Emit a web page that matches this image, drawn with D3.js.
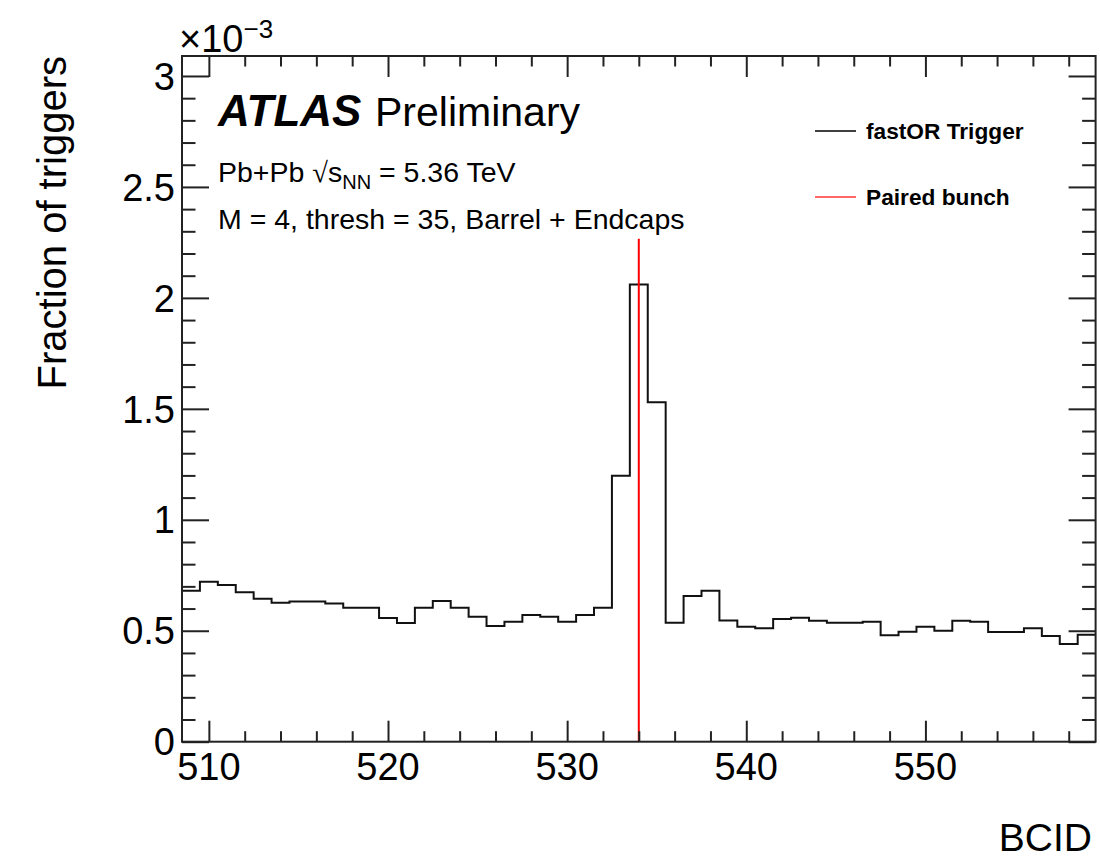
<!DOCTYPE html>
<html>
<head>
<meta charset="utf-8">
<script src="https://cdn.jsdelivr.net/npm/d3@7"></script>
<style>
html,body{margin:0;padding:0;background:#fff;}
svg{display:block;}
text{font-family:"Liberation Sans","Helvetica",Arial,sans-serif;fill:#000;}
</style>
</head>
<body>
<svg id="chart" width="1100" height="858"></svg>
<script>
// ---- data ----
const bcid = d3.range(509, 560); // bin centres 509..559
const fraction = [
  0.680, 0.721, 0.706, 0.673, 0.644, 0.626, 0.632, 0.632, 0.623, 0.604,
  0.604, 0.557, 0.535, 0.604, 0.634, 0.604, 0.563, 0.521, 0.541, 0.571,
  0.563, 0.541, 0.571, 0.604, 1.198, 2.060, 1.530, 0.536, 0.657, 0.680,
  0.546, 0.518, 0.511, 0.553, 0.559, 0.545, 0.536, 0.536, 0.541, 0.480,
  0.495, 0.518, 0.500, 0.545, 0.541, 0.494, 0.494, 0.511, 0.476, 0.440,
  0.482
];
const pairedBunch = [534];
const xDomain = [508.5, 559.5];
const yDomain = [0, 3.09];
const xMajorTicks = [510, 520, 530, 540, 550];
const yMajorTicks = [0, 0.5, 1, 1.5, 2, 2.5, 3];
const legendLabels = ["fastOR Trigger", "Paired bunch"];

// ---- layout ----
const svg = d3.select("#chart");
const L = 182, R = 1095.6, T = 56, B = 741.7;
const x = d3.scaleLinear().domain(xDomain).range([L, R]);
const y = d3.scaleLinear().domain(yDomain).range([B, T]);
const axisColor = "#222";

// histogram
const pts = bcid.map((b, i) => [b - 0.5, fraction[i]]);
pts.push([bcid[bcid.length - 1] + 0.5, fraction[fraction.length - 1]]);
const line = d3.line().x(d => x(d[0])).y(d => y(d[1])).curve(d3.curveStepAfter);
svg.append("path").attr("d", line(pts)).attr("fill", "none")
  .attr("stroke", "#111").attr("stroke-width", 2);

// paired bunch red line (max*1.1)
const peak = d3.max(fraction);
pairedBunch.forEach(p => {
  svg.append("line").attr("x1", x(p)).attr("x2", x(p))
    .attr("y1", y(0)).attr("y2", y(peak * 1.1))
    .attr("stroke", "#ff0000").attr("stroke-width", 2);
});

// axes (ROOT style: ticks inside on all four sides)
const xMinor = d3.range(510, 560, 2).filter(v => v % 10 !== 0);
const yMinor = d3.range(0, 31).map(v => v / 10).filter(v => Math.round(v * 10) % 5 !== 0);

function xAxis(g, scale, orient, values, len) {
  const ax = (orient === "bottom" ? d3.axisBottom(scale) : d3.axisTop(scale))
    .tickValues(values).tickSizeInner(-len).tickSizeOuter(0).tickFormat("");
  g.call(ax);
  g.select(".domain").remove();
  g.selectAll("line").attr("stroke", axisColor).attr("stroke-width", 2);
}
function yAxis(g, scale, orient, values, len) {
  const ax = (orient === "left" ? d3.axisLeft(scale) : d3.axisRight(scale))
    .tickValues(values).tickSizeInner(-len).tickSizeOuter(0).tickFormat("");
  g.call(ax);
  g.select(".domain").remove();
  g.selectAll("line").attr("stroke", axisColor).attr("stroke-width", 2);
}
xAxis(svg.append("g").attr("transform", `translate(0,${B})`), x, "bottom", xMajorTicks, 21);
xAxis(svg.append("g").attr("transform", `translate(0,${B})`), x, "bottom", xMinor, 10.5);
xAxis(svg.append("g").attr("transform", `translate(0,${T})`), x, "top", xMajorTicks, 21);
xAxis(svg.append("g").attr("transform", `translate(0,${T})`), x, "top", xMinor, 10.5);
yAxis(svg.append("g").attr("transform", `translate(${L},0)`), y, "left", yMajorTicks, 27);
yAxis(svg.append("g").attr("transform", `translate(${L},0)`), y, "left", yMinor, 13.5);
yAxis(svg.append("g").attr("transform", `translate(${R},0)`), y, "right", yMajorTicks, 27);
yAxis(svg.append("g").attr("transform", `translate(${R},0)`), y, "right", yMinor, 13.5);

// frame
svg.append("rect").attr("x", L).attr("y", T).attr("width", R - L).attr("height", B - T)
  .attr("fill", "none").attr("stroke", axisColor).attr("stroke-width", 2);

// tick labels
const fsTick = 38;
svg.append("g").selectAll("text").data(xMajorTicks).join("text")
  .attr("x", d => x(d)).attr("y", 780).attr("text-anchor", "middle")
  .attr("font-size", fsTick).text(d => d);
svg.append("g").selectAll("text").data(yMajorTicks).join("text")
  .attr("x", 175).attr("y", d => y(d) + fsTick * 0.36).attr("text-anchor", "end")
  .attr("font-size", fsTick).text(d => d3.format("")(d));

// exponent
const ex = svg.append("text").attr("x", 179).attr("y", 52).attr("font-size", 38);
ex.append("tspan").text("×10");
ex.append("tspan").attr("font-size", 26).attr("dy", -14).text("−3");

// axis titles
svg.append("text").attr("transform", "translate(66,56) rotate(-90)")
  .attr("text-anchor", "end").attr("font-size", 40).text("Fraction of triggers");
svg.append("text").attr("x", 1092).attr("y", 851).attr("text-anchor", "end")
  .attr("font-size", 39).text("BCID");

// ATLAS label
svg.append("text").attr("x", 218).attr("y", 126).attr("font-size", 44)
  .attr("font-weight", "bold").attr("font-style", "italic").text("ATLAS");
svg.append("text").attr("x", 375).attr("y", 126).attr("font-size", 41).text("Preliminary");

const l2 = svg.append("text").attr("x", 218).attr("y", 182).attr("font-size", 28.5);
l2.append("tspan").text("Pb+Pb ");
l2.append("tspan").attr("font-family", "DejaVu Sans").attr("font-weight", 200).text("√");
l2.append("tspan").text("s");
l2.append("tspan").attr("font-size", 20).attr("dy", 7).text("NN");
l2.append("tspan").attr("dy", -7).text(" = 5.36 TeV");

svg.append("text").attr("x", 218).attr("y", 229).attr("font-size", 28.5)
  .text("M = 4, thresh = 35, Barrel + Endcaps");

// legend
const legColors = ["#000", "#ff0000"];
const legY = [131, 197];
legendLabels.forEach((lab, i) => {
  svg.append("line").attr("x1", 815).attr("x2", 856).attr("y1", legY[i]).attr("y2", legY[i])
    .attr("stroke", legColors[i]).attr("stroke-width", i === 0 ? 1.6 : 1.3)
    .attr("opacity", i === 0 ? 1 : 0.8);
  svg.append("text").attr("x", 866).attr("y", legY[i] + 8).attr("font-size", 22.7)
    .attr("font-weight", "bold").text(lab);
});
</script>
</body>
</html>
